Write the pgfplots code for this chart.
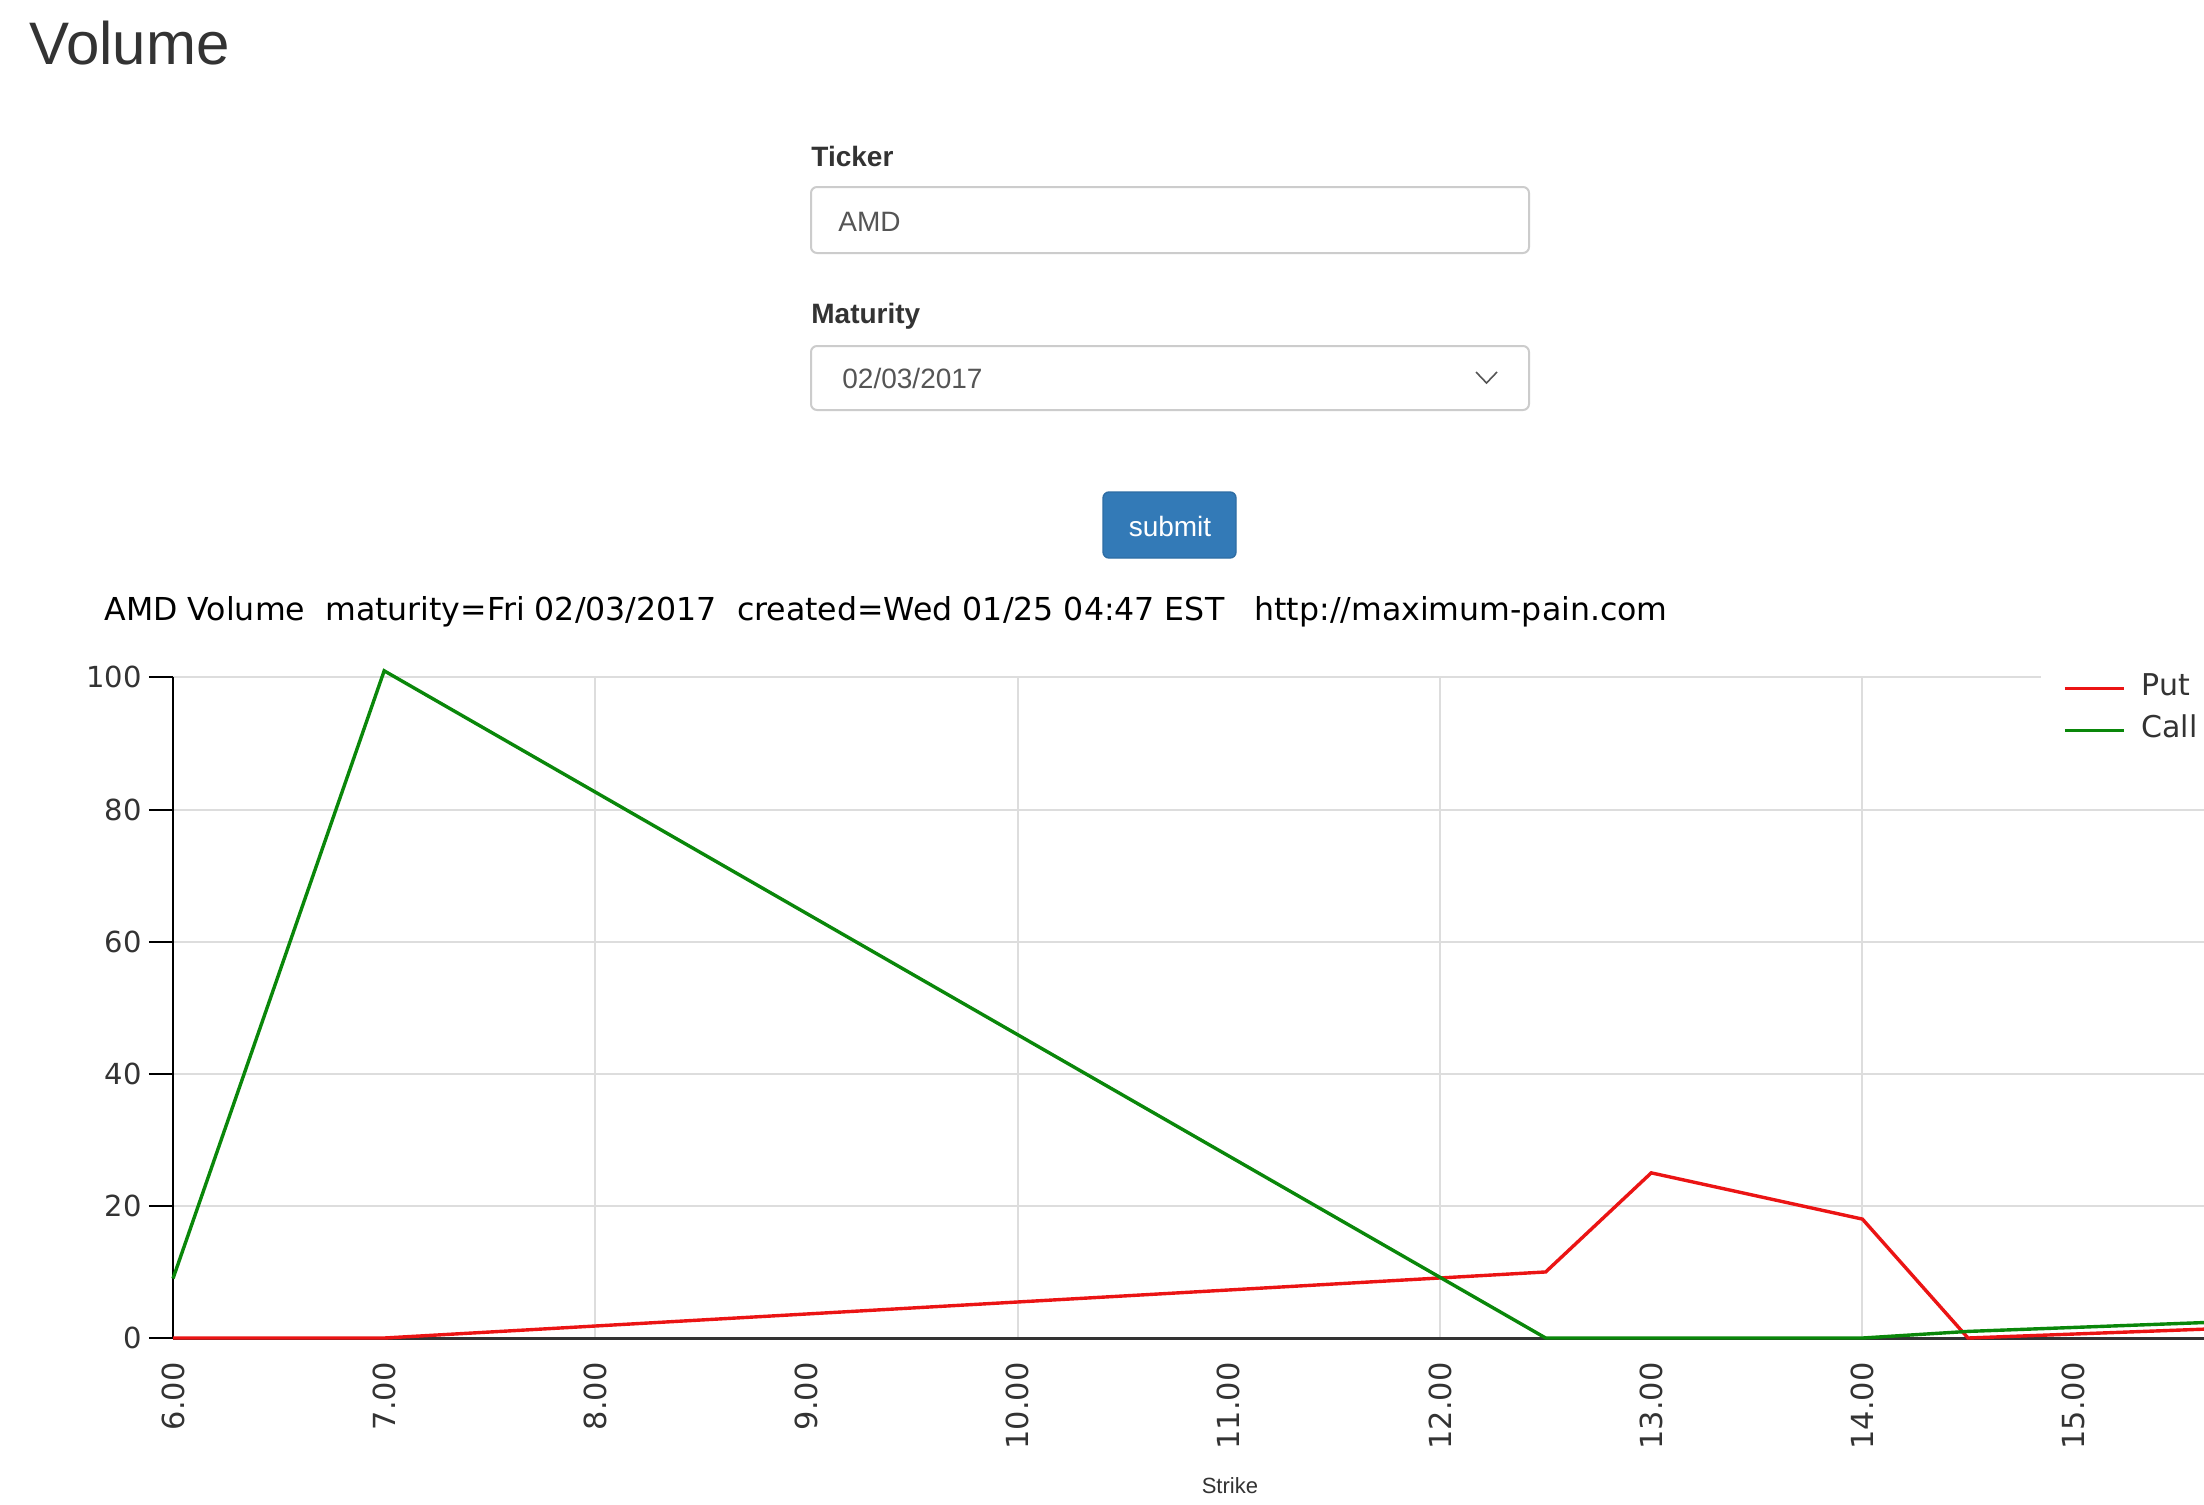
\documentclass[border=0pt]{standalone}
\usepackage{fontspec}
\setmainfont{Liberation Sans}
\newfontfamily\dv{DejaVu Sans}
\usepackage{pgfplots}
\pgfplotsset{compat=1.18}
\definecolor{txt}{HTML}{333333}
\definecolor{inp}{HTML}{555555}
\definecolor{bord}{HTML}{CCCCCC}
\definecolor{btn}{HTML}{337AB7}
\definecolor{btnb}{HTML}{2E6DA4}
\definecolor{putc}{RGB}{235,20,20}
\definecolor{callc}{RGB}{10,135,10}
\definecolor{gridc}{HTML}{DDDDDD}
\begin{document}
\begin{tikzpicture}[x=0.5pt,y=-0.5pt]
\path[use as bounding box] (0,0) rectangle (2204,1504);
\clip (0,0) rectangle (2204,1504);
\fill[white] (0,0) rectangle (2204,1504);
% page heading
\node[anchor=base west,inner sep=0pt,text=txt,font=\fontsize{30}{36}\selectfont] at (29,65) {Volume};
% form
\node[anchor=base west,inner sep=0pt,text=txt,font=\bfseries\fontsize{14}{17}\selectfont] at (811,166) {Ticker};
\draw[bord,line width=1pt,rounded corners=3pt,fill=white] (811,187) rectangle (1529,253);
\node[anchor=base west,inner sep=0pt,text=inp,font=\fontsize{14}{17}\selectfont] at (838,231) {AMD};
\node[anchor=base west,inner sep=0pt,text=txt,font=\bfseries\fontsize{14}{17}\selectfont] at (811,323) {Maturity};
\draw[bord,line width=1pt,rounded corners=3pt,fill=white] (811,346) rectangle (1529,410);
\node[anchor=base west,inner sep=0pt,text=inp,font=\fontsize{14}{17}\selectfont] at (842,388) {02/03/2017};
\draw[inp,line width=0.8pt] (1476,372) -- (1486.5,383) -- (1497,372);
\draw[btnb,line width=0.7pt,rounded corners=3pt,fill=btn] (1103,492) rectangle (1236,558);
\node[anchor=base,inner sep=0pt,text=white,font=\fontsize{14}{17}\selectfont] at (1170,536) {submit};
% chart title
\node[anchor=base west,inner sep=0pt,text=black,font=\dv\fontsize{15.8}{19}\selectfont] at (104,620) {AMD Volume\ \ maturity=Fri 02/03/2017\ \ created=Wed 01/25 04:47 EST\ \ \ http://maximum-pain.com};
\begin{axis}[
  at={(86.5pt,-669pt)}, anchor=south west,
  scale only axis, width=1015.5pt, height=330.3pt,
  xmin=6, xmax=15.617, ymin=0, ymax=100,
  clip=false,
  axis line style={draw=none},
  xtick={6,7,8,9,10,11,12,13,14,15},
  xticklabels={6.00,7.00,8.00,9.00,10.00,11.00,12.00,13.00,14.00,15.00},
  ytick={0,20,40,60,80,100},
  xtick pos=bottom, ytick pos=left,
  xtick style={draw=none},
  ytick style={black,line width=1pt},
  tick align=outside, major tick length=12pt,
  ymajorgrids=true,
  major grid style={gridc,line width=1pt},
  /pgf/number format/assume math mode=true,
  tick label style={font=\dv\fontsize{14.5}{17}\selectfont,text=txt},
  yticklabel style={anchor=east,inner sep=0pt,xshift=-3.5pt},
  xticklabel style={inner sep=0pt,anchor=east,yshift=0pt,rotate=90,font=\dv\fontsize{15.2}{17}\selectfont},
  xlabel={Strike},
  xlabel style={at={(axis description cs:0.5204,-0.2346)},anchor=base,inner sep=0pt,font=\fontsize{11}{13}\selectfont,text=txt},
  legend style={at={(axis description cs:0.9197,1.018)},anchor=north west,draw=none,fill=white,
    inner xsep=11pt,inner ysep=4pt,row sep=6.5pt,column sep=8pt,
    nodes={inner sep=0pt,text height=11pt,text depth=3.5pt},
    font=\dv\fontsize{15}{18}\selectfont,text=txt},
  legend cell align=left,
  legend image code/.code={\draw[#1,line width=1.7pt] (0pt,0pt) -- (29.5pt,0pt);},
]
\pgfplotsinvokeforeach{8,10,12,14}{\draw[gridc,line width=1pt] (axis cs:#1,0) -- (axis cs:#1,100);}
\draw[black,line width=1.2pt] (axis cs:6,0) -- (axis cs:6,100);
\draw[txt,line width=1.5pt] (axis cs:6,0) -- (axis cs:16,0);
\addplot[putc,line width=1.7pt] coordinates {(6,0) (7,0) (12.5,10) (13,25) (14,18) (14.5,0) (15,0.6) (16,1.8)};
\addplot[callc,line width=1.7pt] coordinates {(6,9) (7,101) (12.5,0) (13,0) (14,0) (14.5,1) (15,1.6) (16,2.8)};
\legend{Put,Call}
\end{axis}
\end{tikzpicture}
\end{document}
